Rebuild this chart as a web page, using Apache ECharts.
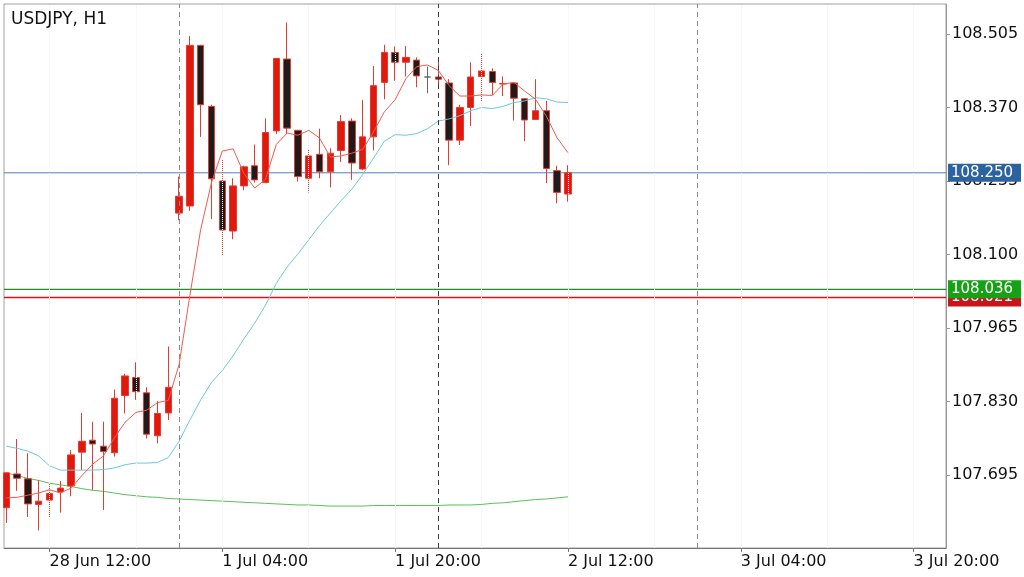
<!DOCTYPE html>
<html><head><meta charset="utf-8">
<script src="https://cdn.jsdelivr.net/npm/echarts@6/dist/echarts.min.js"></script>
<style>html,body{margin:0;padding:0;background:#fff}#c{width:1024px;height:577px}</style>
</head><body><div id="c"></div>
<script>
const chartTitle = 'USDJPY, H1';
// hour slot of the first candle, counted from 28 Jun 12:00
const firstSlot = -4;
const open = [107.635,107.697,107.688,107.641,107.649,107.664,107.675,107.737,107.759,107.748,107.736,107.841,107.874,107.846,107.767,107.809,108.176,108.189,108.484,108.372,108.235,108.143,108.226,108.263,108.232,108.327,108.459,108.328,108.240,108.284,108.252,108.291,108.345,108.257,108.316,108.416,108.471,108.453,108.457,108.426,108.426,108.415,108.310,108.370,108.427,108.436,108.413,108.415,108.386,108.348,108.364,108.254,108.211];
const close = [107.699,107.689,107.642,107.647,107.661,107.671,107.732,107.757,107.752,107.738,107.836,107.877,107.848,107.770,107.808,107.856,108.207,108.484,108.375,108.239,108.145,108.226,108.261,108.237,108.324,108.460,108.332,108.243,108.281,108.252,108.286,108.344,108.268,108.316,108.410,108.471,108.453,108.462,108.428,108.426,108.422,108.310,108.370,108.426,108.437,108.416,108.414,108.387,108.347,108.364,108.258,108.214,108.250];
const low = [107.607,107.666,107.618,107.593,107.618,107.626,107.656,107.704,107.667,107.631,107.729,107.808,107.833,107.762,107.753,107.796,108.163,108.180,108.316,108.165,108.099,108.128,108.218,108.232,108.231,108.321,108.321,108.234,108.214,108.240,108.223,108.270,108.237,108.255,108.291,108.385,108.419,108.427,108.407,108.396,108.406,108.264,108.301,108.336,108.381,108.393,108.391,108.346,108.308,108.347,108.231,108.194,108.197];
const high = [107.700,107.761,107.735,107.686,107.680,107.684,107.741,107.809,107.793,107.793,107.852,107.881,107.902,107.856,107.831,107.931,108.243,108.501,108.485,108.375,108.274,108.240,108.263,108.302,108.350,108.461,108.526,108.329,108.292,108.331,108.295,108.356,108.350,108.384,108.446,108.485,108.482,108.483,108.462,108.445,108.454,108.422,108.375,108.453,108.468,108.442,108.427,108.416,108.387,108.422,108.382,108.263,108.264];
const maFast = [107.653,107.654,107.658,107.662,107.668,107.662,107.671,107.694,107.715,107.730,107.763,107.792,107.810,107.814,107.828,107.832,107.898,108.025,108.146,108.232,108.290,108.294,108.249,108.222,108.238,108.302,108.323,108.319,108.328,108.314,108.279,108.281,108.286,108.293,108.325,108.362,108.384,108.423,108.445,108.448,108.438,108.410,108.391,108.391,108.393,108.392,108.413,108.416,108.400,108.385,108.354,108.314,108.287];
const maMid = [107.748,107.744,107.739,107.730,107.712,107.704,107.704,107.704,107.704,107.705,107.708,107.714,107.717,107.717,107.718,107.727,107.757,107.796,107.833,107.865,107.887,107.914,107.945,107.974,108.007,108.047,108.077,108.101,108.127,108.153,108.176,108.199,108.220,108.247,108.277,108.308,108.320,108.319,108.322,108.331,108.345,108.349,108.355,108.364,108.370,108.368,108.372,108.379,108.382,108.388,108.386,108.380,108.379];
const maSlow = [107.699,107.694,107.689,107.685,107.680,107.677,107.674,107.670,107.667,107.665,107.662,107.659,107.657,107.655,107.654,107.652,107.651,107.650,107.649,107.648,107.647,107.646,107.645,107.644,107.643,107.642,107.641,107.640,107.640,107.639,107.638,107.638,107.638,107.638,107.639,107.639,107.639,107.639,107.639,107.639,107.639,107.640,107.640,107.640,107.641,107.643,107.644,107.646,107.648,107.650,107.651,107.653,107.655];
const tickSlots = [0,16,32,48,64,80];
const tickLabels = ['28 Jun 12:00','1 Jul 04:00','1 Jul 20:00','2 Jul 12:00','3 Jul 04:00','3 Jul 20:00'];
const daySeparators = [12,36,60];
const gridSlots = [0,8,16,24,32,40,48,56,64,72,80];
const priceTicks = [107.695,107.830,107.965,108.100,108.235,108.370,108.505];
const bidLevel = 108.250;
const greenLevel = 108.036;
const redLevel = 108.021;
const xMin = -4.21, xMax = 83.0, yMin = 107.561, yMax = 108.560;

const FONT = 'DejaVu Sans';
const slots = open.map((_, i) => firstSlot + i);
const candleData = open.map((o, i) => [slots[i], o, close[i], low[i], high[i]]);
const lineData = arr => arr.map((v, i) => [slots[i], v]);

function levelSeries(name, v, lineColor, bg, z, w) {
  return {
    name: name, type: 'line', z: z, silent: true, showSymbol: false, symbol: 'none',
    data: [[xMin, v], [xMax, v]],
    color: lineColor,
    itemStyle: {color: lineColor},
    lineStyle: {color: lineColor, width: w, opacity: 1},
    endLabel: {show: true, distance: 2, formatter: () => v.toFixed(3),
      color: '#fff', backgroundColor: bg, padding: [2, 8, 1, 3], fontSize: 15, fontFamily: FONT}
  };
}

const chart = echarts.init(document.getElementById('c'), null, {renderer: 'canvas'});
chart.setOption({
  animation: false,
  backgroundColor: '#fff',
  title: {text: chartTitle, left: 6, top: 6,
    textStyle: {fontSize: 17, fontWeight: 'normal', color: '#111', fontFamily: FONT}},
  grid: {left: 4, right: 78, top: 4, bottom: 29, show: true, borderColor: '#a0a0a0', borderWidth: 1},
  xAxis: {
    type: 'value', min: xMin, max: xMax,
    axisLine: {show: true, onZero: false, lineStyle: {color: '#777'}},
    axisTick: {show: true, customValues: tickSlots, length: 4, lineStyle: {color: '#777'}},
    axisLabel: {customValues: tickSlots, align: 'left', margin: 6, fontSize: 16, color: '#111', fontFamily: FONT,
      formatter: v => tickLabels[tickSlots.indexOf(Math.round(v))]},
    splitLine: {show: false}
  },
  yAxis: {
    type: 'value', position: 'right', min: yMin, max: yMax, scale: true,
    axisLine: {show: true, onZero: false, lineStyle: {color: '#999'}},
    axisTick: {show: true, customValues: priceTicks, length: 4, lineStyle: {color: '#999'}},
    axisLabel: {customValues: priceTicks, margin: 6, fontSize: 16, color: '#111', fontFamily: FONT,
      formatter: v => v.toFixed(3)},
    splitLine: {show: false}
  },
  series: [
    {
      type: 'line', data: lineData(maSlow), showSymbol: false, symbol: 'none',
      lineStyle: {color: '#5cbf5c', width: 1}, z: 1,
      markLine: {
        silent: true, symbol: ['none', 'none'], label: {show: false},
        data: gridSlots.map(s => ({xAxis: s, lineStyle: {color: '#f0f0f0', type: 'dotted', width: 1}}))
          .concat(daySeparators.map((s, k) => ({xAxis: s,
            lineStyle: {color: k === 1 ? '#3a3a3a' : '#8a8a8a', type: [5, 4], width: 1}})))
      }
    },
    levelSeries('sell', redLevel, '#dd1111', '#c4161c', 2, 1.6),
    levelSeries('buy', greenLevel, '#2a8a2a', '#17a117', 2, 1.2),
    levelSeries('bid', bidLevel, '#5580bb', '#2d62a1', 2, 1),
    {
      type: 'candlestick', data: candleData, barWidth: 7, z: 3,
      itemStyle: {color: '#e1190c', color0: '#1c1c1c', borderColor: '#e53b30', borderColor0: '#e53b30',
        borderColorDoji: '#666', borderWidth: 1}
    },
    {
      type: 'line', data: lineData(maMid), showSymbol: false, symbol: 'none',
      lineStyle: {color: '#6cc9da', width: 1}, z: 4
    },
    {
      type: 'line', data: lineData(maFast), showSymbol: false, symbol: 'none',
      lineStyle: {color: '#f45a4e', width: 1}, z: 5
    }
  ]
});
</script></body></html>
